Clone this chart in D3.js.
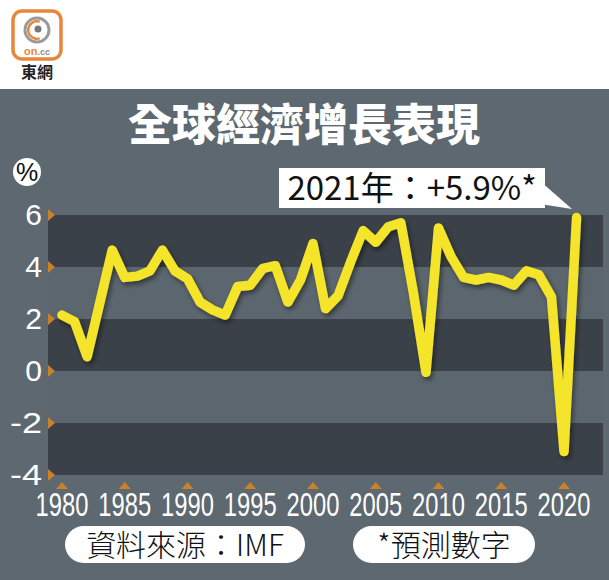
<!DOCTYPE html>
<html><head><meta charset="utf-8">
<script src="https://cdn.jsdelivr.net/npm/d3@7"></script>
<style>
html,body{margin:0;padding:0;background:#fff;}
svg{display:block;}
</style></head>
<body>
<script>
const years = [1980,1981,1982,1983,1984,1985,1986,1987,1988,1989,1990,1991,1992,1993,1994,1995,1996,1997,1998,1999,2000,2001,2002,2003,2004,2005,2006,2007,2008,2009,2010,2011,2012,2013,2014,2015,2016,2017,2018,2019,2020,2021];
const growth = [2.15,1.9,0.55,2.6,4.65,3.6,3.65,3.85,4.65,3.85,3.55,2.65,2.35,2.15,3.25,3.3,3.95,4.05,2.65,3.5,4.9,2.4,2.9,4.2,5.4,4.95,5.55,5.7,3.0,-0.05,5.5,4.4,3.6,3.5,3.6,3.5,3.3,3.85,3.7,2.85,-3.1,5.9];
const xTicks = [1980,1985,1990,1995,2000,2005,2010,2015,2020];
const yTicks = [-4,-2,0,2,4,6];
const title = "全球經濟增長表現";
const callout = "2021年：+5.9%*";
const source = "資料來源：IMF";
const note = "*預測數字";

const W = 609, H = 580;
const svg = d3.select("body").append("svg").attr("width", W).attr("height", H);
const defs = svg.append("defs");
const f = defs.append("filter").attr("id","sh").attr("x","-20%").attr("y","-20%").attr("width","140%").attr("height","140%");
f.append("feDropShadow").attr("dx",2).attr("dy",3).attr("stdDeviation",2.5).attr("flood-color","#000").attr("flood-opacity",0.45);

const x = d3.scaleLinear().domain([1980,2020]).range([62,564]);
const y = d3.scaleLinear().domain([-4,6]).range([475,215]);

const CJK = "'Noto Sans CJK TC','Noto Sans CJK SC',sans-serif";
const SANS = "'Liberation Sans',Arial,sans-serif";

// background
svg.append("rect").attr("x",0).attr("y",0).attr("width",W).attr("height",H).attr("fill","#ffffff");
svg.append("rect").attr("x",0).attr("y",89).attr("width",W).attr("height",H-89).attr("fill","#5e6870");

// logo
const logo = svg.append("g");
logo.append("rect").attr("x",13).attr("y",11).attr("width",48).attr("height",48).attr("rx",9)
  .attr("fill","#fff").attr("stroke","#e8873a").attr("stroke-width",3.5);
logo.append("circle").attr("cx",37).attr("cy",30).attr("r",12).attr("fill","none").attr("stroke","#9a9a9a").attr("stroke-width",3);
logo.append("path").attr("d", d3.arc()({innerRadius:7.5,outerRadius:10,startAngle:Math.PI*0.9,endAngle:Math.PI*2.1})).attr("transform","translate(37,30)").attr("fill","#e8873a");
logo.append("circle").attr("cx",38).attr("cy",29).attr("r",3.5).attr("fill","#777");
const oncc = logo.append("text").attr("x",37).attr("y",55).attr("text-anchor","middle")
  .attr("font-family",SANS).attr("font-weight","bold").attr("font-size",11);
oncc.append("tspan").attr("fill","#e8873a").text("on");
oncc.append("tspan").attr("fill","#8a8a8a").attr("font-size",9).text(".cc");
logo.append("text").attr("x",37).attr("y",78).attr("text-anchor","middle").attr("font-family",CJK)
  .attr("font-weight","bold").attr("font-size",16).attr("fill","#222").text("東網");

// title
svg.append("text").attr("x",304).attr("y",141).attr("text-anchor","middle").attr("font-family",CJK)
  .attr("font-weight",900).attr("font-size",44).attr("fill","#fff").text(title);

// bands
for (let i=0;i<yTicks.length-1;i++){
  const lo = yTicks[i], hi = yTicks[i+1];
  const dark = (i%2===0);
  svg.append("rect").attr("x",48).attr("y",y(hi)).attr("width",555).attr("height",y(lo)-y(hi))
    .attr("fill", dark ? "#3b4148" : "#5c666e");
}

// y ticks
const yg = svg.append("g");
yTicks.forEach(t=>{
  yg.append("path").attr("d",`M48,${y(t)-6}L55,${y(t)}L48,${y(t)+6}Z`).attr("fill","#c9812a");
  const lbl = yg.append("text").attr("x",42).attr("y",y(t)+10).attr("text-anchor","end").attr("font-family",SANS)
    .attr("font-size",30).attr("fill","#fff").text(t);
  if (t < 0) lbl.attr("textLength",32).attr("lengthAdjust","spacingAndGlyphs");
});
// % badge
svg.append("circle").attr("cx",27).attr("cy",172).attr("r",14).attr("fill","#fff");
svg.append("text").attr("x",27).attr("y",181).attr("text-anchor","middle").attr("font-family",SANS)
  .attr("font-size",25).attr("fill","#111").text("%");

// x ticks
const xg = svg.append("g");
xTicks.forEach(t=>{
  xg.append("path").attr("d",`M${x(t)-6},${489}L${x(t)},${482}L${x(t)+6},${489}Z`).attr("fill","#c9812a");
  xg.append("text").attr("transform",`translate(${x(t)},516) scale(0.72,1)`).attr("text-anchor","middle").attr("font-family",SANS)
    .attr("font-size",33).attr("fill","#fff").text(t);
});

// line
const line = d3.line().x((d,i)=>x(years[i])).y(d=>y(d));
svg.append("path").datum(growth).attr("d",line).attr("fill","none").attr("stroke","#f4e52b")
  .attr("stroke-width",9.5).attr("stroke-linejoin","round").attr("stroke-linecap","round").attr("filter","url(#sh)");

// callout
svg.append("path").attr("d","M540,181L572,209L540,204Z").attr("fill","#fff");
svg.append("rect").attr("x",279).attr("y",168).attr("width",266).attr("height",40).attr("fill","#fff");
svg.append("text").attr("x",412).attr("y",200).attr("text-anchor","middle").attr("font-family",CJK)
  .attr("font-size",33).attr("fill","#111").text(callout);

// footer pills
svg.append("rect").attr("x",65).attr("y",526).attr("width",240).attr("height",37).attr("rx",18.5).attr("fill","#fff");
svg.append("text").attr("x",185).attr("y",556).attr("text-anchor","middle").attr("font-family",CJK)
  .attr("font-weight",300).attr("font-size",30).attr("fill","#111").text(source);
svg.append("rect").attr("x",353).attr("y",526).attr("width",182).attr("height",37).attr("rx",18.5).attr("fill","#fff");
svg.append("text").attr("x",444).attr("y",556).attr("text-anchor","middle").attr("font-family",CJK)
  .attr("font-weight",300).attr("font-size",30).attr("fill","#111").text(note);
</script>
</body></html>
